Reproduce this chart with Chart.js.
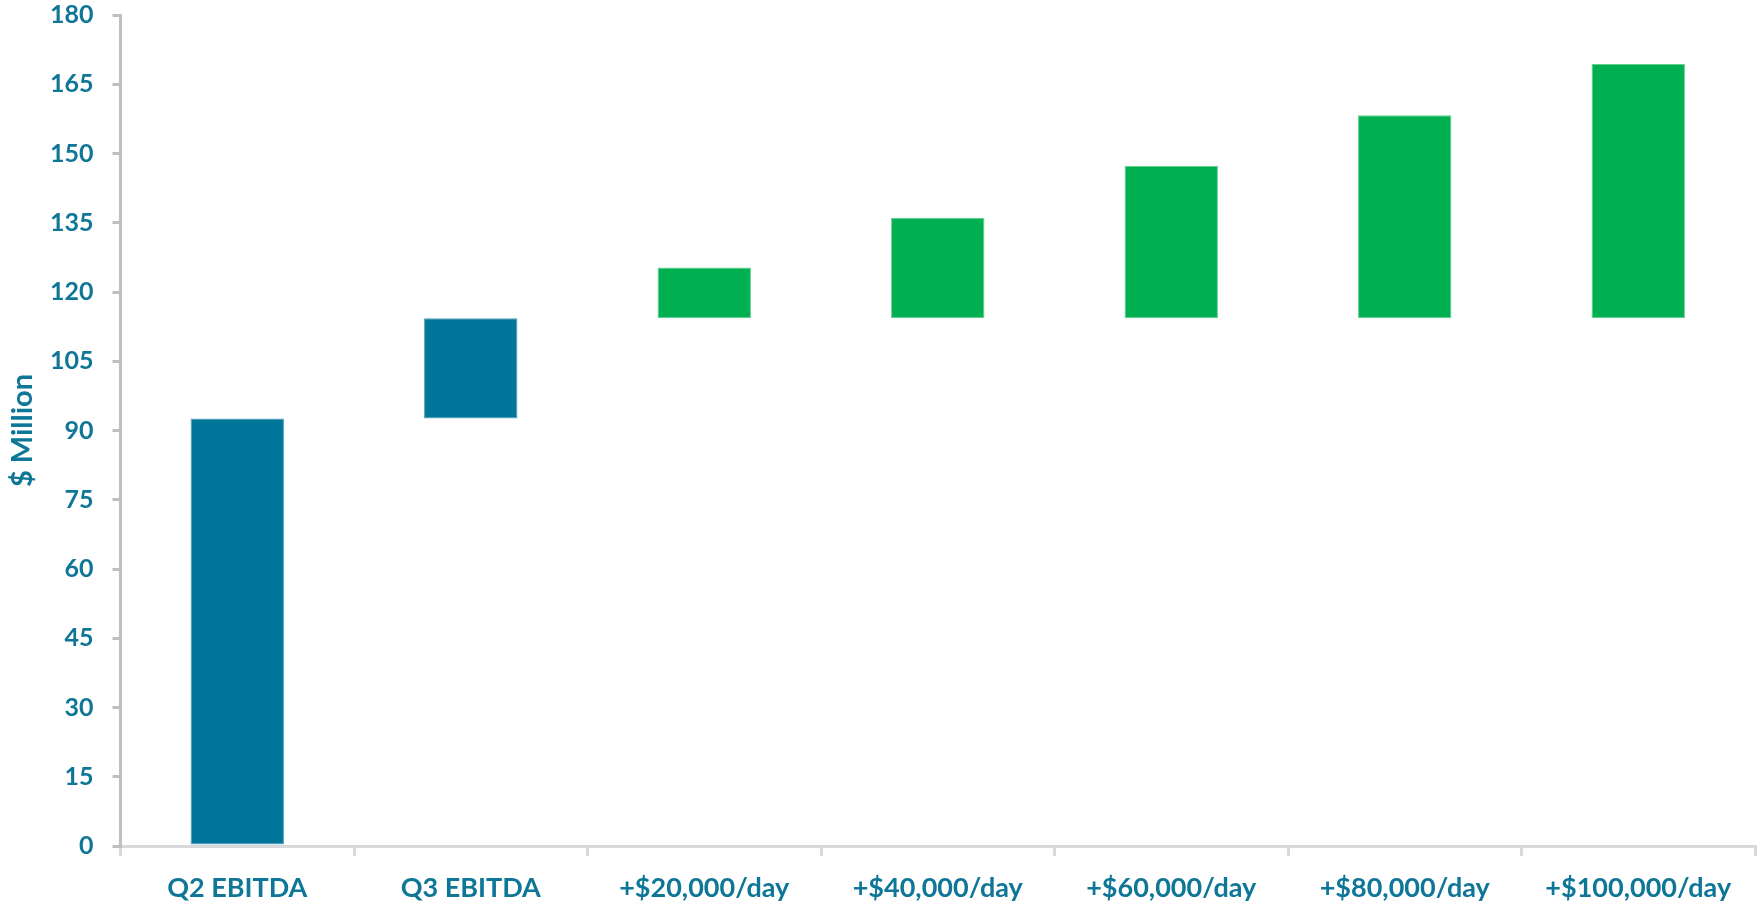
<!DOCTYPE html>
<html>
<head>
<meta charset="utf-8">
<script src="https://cdn.jsdelivr.net/npm/chart.js@4"></script>
<style>
  html, body { margin: 0; padding: 0; background: #ffffff; }
  #wrap { width: 1759px; height: 901px; position: relative; }
</style>
</head>
<body>
<div id="wrap"><canvas id="c"></canvas></div>
<script>
const categories = ["Q2 EBITDA", "Q3 EBITDA", "+$20,000/day", "+$40,000/day", "+$60,000/day", "+$80,000/day", "+$100,000/day"];
const barStart = [0, 92.6, 114.3, 114.3, 114.3, 114.3, 114.3];
const barEnd = [92.6, 114.3, 125.3, 136.1, 147.3, 158.3, 169.4];
const barColors = ["#00759A", "#00759A", "#00B050", "#00B050", "#00B050", "#00B050", "#00B050"];
const barBorders = ["#4f9fbb", "#4f9fbb", "#5fd08e", "#5fd08e", "#5fd08e", "#5fd08e", "#5fd08e"];
const yTicks = [0, 15, 30, 45, 60, 75, 90, 105, 120, 135, 150, 165, 180];

const textColor = "#0E7697";
const fontFamily = "Lato, 'Open Sans', sans-serif";

new Chart(document.getElementById("c"), {
  type: "bar",
  data: {
    labels: categories,
    datasets: [{
      data: categories.map((_, i) => [barStart[i], barEnd[i]]),
      backgroundColor: barColors,
      borderColor: barBorders,
      borderWidth: 1,
      borderSkipped: false,
      barPercentage: 0.4,
      categoryPercentage: 1.0
    }]
  },
  options: {
    responsive: true,
    maintainAspectRatio: false,
    animation: false,
    layout: { padding: { left: 4, right: 4, top: 4, bottom: 0 } },
    plugins: { legend: { display: false }, tooltip: { enabled: false } },
    scales: {
      x: {
        offset: true,
        afterFit: (s) => { s.height = 55; },
        grid: { offset: true, drawOnChartArea: false, tickLength: 10, color: "#d9d9d9", lineWidth: 3 },
        border: { color: "#d9d9d9", width: 3 },
        ticks: { color: textColor, font: { family: fontFamily, size: 27, weight: "bold" }, padding: 16, maxRotation: 0, autoSkip: false }
      },
      y: {
        min: 0, max: 180,
        afterBuildTicks: (axis) => { axis.ticks = yTicks.map(v => ({ value: v })); },
        afterFit: (s) => { s.width = 116.5; s.paddingTop = 15; s.paddingBottom = 15; },
        grid: { drawOnChartArea: false, tickLength: 8, color: "#bfbfbf", lineWidth: 3 },
        border: { color: "#bfbfbf", width: 3 },
        ticks: { color: textColor, font: { family: fontFamily, size: 25, weight: "bold" }, padding: 19 },
        title: { display: true, text: "$ Million", color: textColor, font: { family: fontFamily, size: 29, weight: "bold" }, padding: { top: 1, bottom: 0 } }
      }
    }
  }
});
</script>
</body>
</html>
